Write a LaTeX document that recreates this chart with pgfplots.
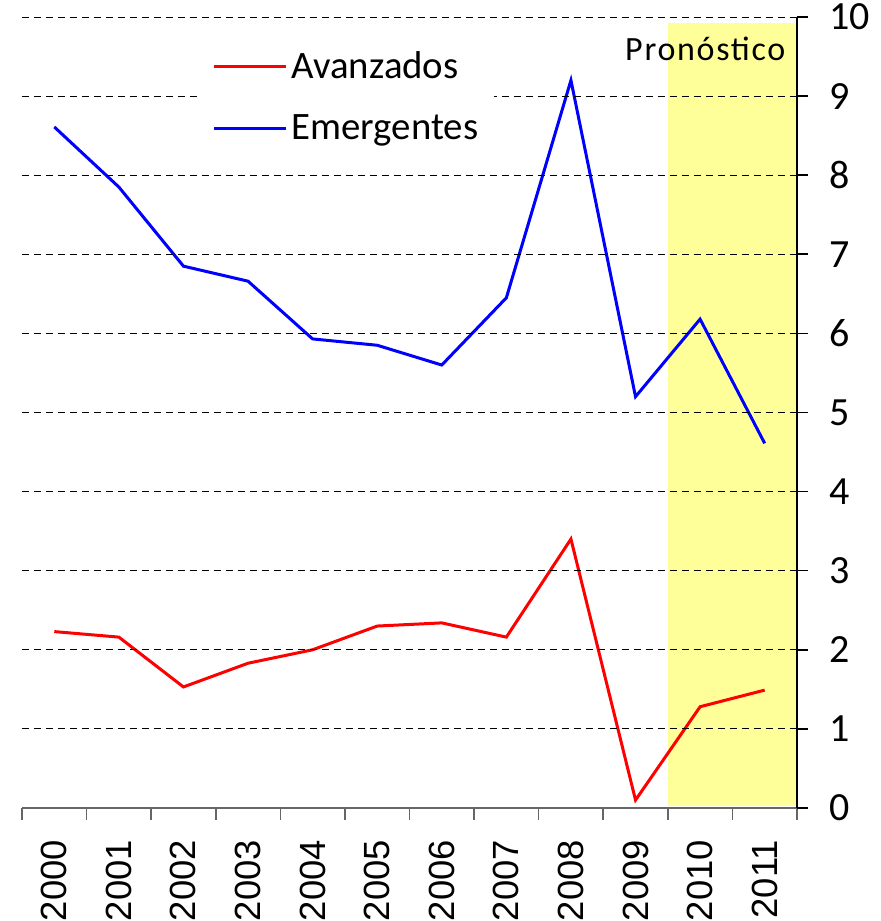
\documentclass[border=0pt]{standalone}
\usepackage{fontspec}
\setmainfont{Carlito}
\newfontfamily\arial{Liberation Sans}
\usepackage{pgfplots}
\pgfplotsset{compat=1.18}
\definecolor{banda}{RGB}{255,255,153}

\begin{document}
\begin{tikzpicture}
\begin{axis}[
  scale only axis,
  width=387.5pt, height=395.5pt,
  xmin=-0.5, xmax=11.5,
  ymin=0, ymax=10,
  axis x line=bottom, axis y line=right,
  axis line style={-},
  x axis line style={draw=gray!80!black, line width=0.8pt},
  y axis line style={draw=black, line width=0.8pt},
  xtick={0,...,11},
  xticklabels={2000,2001,2002,2003,2004,2005,2006,2007,2008,2009,2010,2011},
  minor xtick={-0.5,0.5,...,11.5},
  major x tick style={draw=none},
  minor x tick style={draw=gray!80!black, line width=0.8pt},
  minor tick length=6pt,
  major tick length=5.5pt,
  tick align=outside,
  xticklabel shift=7pt,
  xticklabel style={rotate=90, anchor=east,
    font=\arial\fontsize{18.2}{20}\selectfont},
  ytick={0,...,10},
  ytick style={draw=black, line width=0.8pt},
  yticklabel style={font=\fontsize{20}{22}\selectfont, anchor=west, xshift=7pt},
  /pgf/number format/assume math mode=true,
  ymajorgrids,
  major grid style={black, line width=0.5pt, dash pattern=on 3.5pt off 2.5pt},
  axis on top,
  legend cell align=left,
  legend style={at={(rel axis cs:0.23,0.99)}, anchor=north west,
    draw=none, fill=white, font=\fontsize{19.4}{21}\selectfont,
    inner xsep=6pt, inner ysep=11pt, row sep=12.5pt},
  legend image code/.code={\draw[#1] (0pt,0pt) -- (36pt,0pt);},
]
% banda de pronostico
\addplot[fill=banda, draw=none, forget plot]
  coordinates {(9.5,0.03) (11.5,0.03) (11.5,9.92) (9.5,9.92)} -- cycle;

\addplot[red, line width=1.5pt] coordinates {
(0,2.23) (1,2.16) (2,1.53) (3,1.83) (4,2.00) (5,2.30)
(6,2.34) (7,2.16) (8,3.40) (9,0.10) (10,1.28) (11,1.49)};
\addlegendentry{Avanzados}

\addplot[blue, line width=1.5pt] coordinates {
(0,8.61) (1,7.85) (2,6.85) (3,6.66) (4,5.93) (5,5.85)
(6,5.60) (7,6.45) (8,9.20) (9,5.20) (10,6.18) (11,4.61)};
\addlegendentry{Emergentes}

\node[font=\fontsize{17}{18}\selectfont\addfontfeature{LetterSpace=5}]
  at (axis cs:10.08,9.6) {Pronóstico};

\coordinate (bl) at (rel axis cs:-0.0284,-0.1429);
\coordinate (tr) at (rel axis cs:1.1084,1.0215);
\end{axis}
\pgfresetboundingbox
\path[use as bounding box] (bl) rectangle (tr);
\end{tikzpicture}
\end{document}
